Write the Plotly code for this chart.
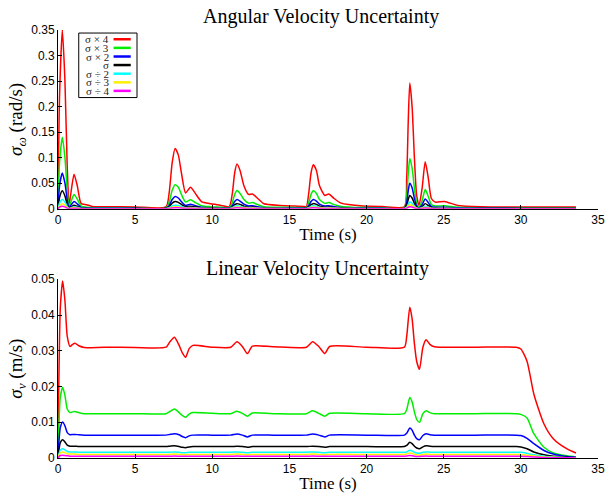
import plotly.graph_objects as go

# ---------------- data ----------------
LABELS = ["σ × 4", "σ × 3", "σ × 2", "σ", "σ ÷ 2", "σ ÷ 3", "σ ÷ 4"]
COLORS = ["#ff0000", "#00ee00", "#0000ff", "#000000", "#00ffff", "#ffee00", "#ff00ff"]

T_TOP = [0, 0.1, 0.28, 0.45, 0.6, 0.72, 0.88, 1.04, 1.25, 1.5,
         1.84, 2.2, 3.0, 5.0, 7.0, 7.2, 7.4, 7.59, 7.8, 8.0,
         8.27, 8.59, 8.9, 9.3, 9.9, 10.5, 11.1, 11.3, 11.45, 11.6,
         11.8, 12.05, 12.35, 12.6, 12.95, 13.35, 14.4, 15.9, 16.1, 16.25,
         16.4, 16.55, 16.75, 16.95, 17.3, 17.55, 17.9, 18.35, 19.75, 21.0,
         22.45, 22.6, 22.7, 22.8, 22.95, 23.1, 23.25, 23.4, 23.6, 23.8,
         24.0, 24.2, 24.45, 25.05, 25.9, 27.4, 30.0, 33.57]

W_X4 = [0.0, 0.22, 0.35, 0.25, 0.08, 0.008, 0.04, 0.0675, 0.045, 0.01,
        0.008, 0.0045, 0.004, 0.0035, 0.0035, 0.03, 0.09, 0.118, 0.105, 0.07,
        0.031, 0.042, 0.03, 0.014, 0.0097, 0.007, 0.004, 0.03, 0.07, 0.0875,
        0.075, 0.045, 0.028, 0.029, 0.02, 0.0097, 0.0065, 0.0045, 0.004, 0.03,
        0.07, 0.086, 0.075, 0.045, 0.026, 0.029, 0.02, 0.011, 0.0055, 0.0045,
        0.004, 0.06, 0.17, 0.246, 0.2, 0.1, 0.025, 0.0065, 0.04, 0.092,
        0.06, 0.02, 0.013, 0.0143, 0.0065, 0.004, 0.0035, 0.0035]
W_X3 = [0.0, 0.09, 0.14, 0.1, 0.035, 0.004, 0.017, 0.028, 0.019, 0.005,
        0.003, 0.002, 0.0018, 0.0015, 0.0015, 0.012, 0.036, 0.047, 0.042, 0.028,
        0.013, 0.0175, 0.012, 0.006, 0.004, 0.003, 0.0018, 0.012, 0.028, 0.0356,
        0.03, 0.018, 0.011, 0.012, 0.008, 0.004, 0.0027, 0.0018, 0.0016, 0.012,
        0.028, 0.035, 0.03, 0.018, 0.0105, 0.012, 0.008, 0.0045, 0.0022, 0.0018,
        0.0016, 0.024, 0.068, 0.0985, 0.08, 0.04, 0.01, 0.0028, 0.016, 0.0375,
        0.024, 0.008, 0.0053, 0.0058, 0.0027, 0.0016, 0.0014, 0.0014]
W_X2 = [0.0, 0.045, 0.07, 0.05, 0.017, 0.002, 0.0085, 0.014, 0.0095, 0.0025,
        0.0015, 0.001, 0.0009, 0.0008, 0.0008, 0.006, 0.018, 0.024, 0.021, 0.014,
        0.0065, 0.009, 0.006, 0.003, 0.002, 0.0015, 0.0009, 0.006, 0.014, 0.018,
        0.015, 0.009, 0.0055, 0.006, 0.004, 0.002, 0.0014, 0.0009, 0.0008, 0.006,
        0.014, 0.018, 0.015, 0.009, 0.0053, 0.006, 0.004, 0.0023, 0.0011, 0.0009,
        0.0008, 0.012, 0.035, 0.05, 0.041, 0.02, 0.005, 0.0014, 0.008, 0.019,
        0.012, 0.004, 0.0027, 0.003, 0.0014, 0.0008, 0.0007, 0.0007]
W_X1 = [0.0, 0.022, 0.035, 0.025, 0.0085, 0.001, 0.0043, 0.007, 0.0048, 0.0013,
        0.0008, 0.0005, 0.00045, 0.0004, 0.0004, 0.0035, 0.011, 0.0142, 0.0125, 0.0084,
        0.0038, 0.005, 0.0035, 0.0017, 0.0012, 0.0008, 0.0005, 0.0034, 0.008, 0.010,
        0.0085, 0.005, 0.003, 0.0033, 0.0022, 0.0011, 0.0007, 0.0005, 0.0004, 0.0034,
        0.008, 0.010, 0.0085, 0.005, 0.003, 0.0033, 0.0022, 0.0013, 0.0006, 0.0005,
        0.0004, 0.0065, 0.018, 0.026, 0.021, 0.0105, 0.0027, 0.0007, 0.0042, 0.010,
        0.0065, 0.0022, 0.0014, 0.0016, 0.0007, 0.0004, 0.0004, 0.0004]
W_D2 = [0.0, 0.011, 0.018, 0.013, 0.0044, 0.0005, 0.0024, 0.004, 0.0027, 0.0007,
        0.0004, 0.0003, 0.00025, 0.0002, 0.0002, 0.0018, 0.0054, 0.007, 0.0062, 0.0042,
        0.0019, 0.0026, 0.0018, 0.0009, 0.0006, 0.0004, 0.00025, 0.002, 0.0047, 0.006,
        0.005, 0.003, 0.0018, 0.002, 0.0013, 0.0007, 0.0004, 0.00025, 0.0002, 0.002,
        0.0047, 0.006, 0.005, 0.003, 0.0018, 0.002, 0.0013, 0.0007, 0.0003, 0.00025,
        0.0002, 0.0032, 0.009, 0.013, 0.0105, 0.0052, 0.0014, 0.0004, 0.0021, 0.005,
        0.0032, 0.0011, 0.0007, 0.0008, 0.0004, 0.0002, 0.0002, 0.0002]
W_D3 = [0.0, 0.006, 0.010, 0.0072, 0.0024, 0.0003, 0.0013, 0.0022, 0.0015, 0.0004,
        0.0002, 0.00015, 0.00012, 0.0001, 0.0001, 0.001, 0.003, 0.004, 0.0035, 0.0024,
        0.0011, 0.0015, 0.001, 0.0005, 0.00035, 0.00025, 0.00012, 0.0011, 0.0027, 0.0035,
        0.003, 0.0018, 0.001, 0.0012, 0.0008, 0.0004, 0.00025, 0.00012, 0.0001, 0.0011,
        0.0027, 0.0035, 0.003, 0.0018, 0.001, 0.0012, 0.0008, 0.0004, 0.00015, 0.00012,
        0.0001, 0.002, 0.0055, 0.008, 0.0065, 0.0032, 0.0008, 0.0002, 0.0013, 0.003,
        0.002, 0.0007, 0.0004, 0.0005, 0.0002, 0.0001, 0.0001, 0.0001]
W_D4 = [0.0, 0.003, 0.005, 0.0036, 0.0012, 0.00015, 0.0007, 0.0011, 0.0008, 0.0002,
        0.0001, 0.00008, 0.00006, 0.00005, 0.00005, 0.0005, 0.0015, 0.002, 0.0018, 0.0012,
        0.0006, 0.0008, 0.0005, 0.00025, 0.00018, 0.00012, 0.00006, 0.0006, 0.0014, 0.0018,
        0.0015, 0.0009, 0.0005, 0.0006, 0.0004, 0.0002, 0.00012, 0.00006, 0.00005, 0.0006,
        0.0014, 0.0018, 0.0015, 0.0009, 0.0005, 0.0006, 0.0004, 0.0002, 0.00008, 0.00006,
        0.00005, 0.001, 0.0028, 0.004, 0.0033, 0.0016, 0.0004, 0.0001, 0.0007, 0.0015,
        0.001, 0.00035, 0.0002, 0.00025, 0.0001, 0.00005, 0.00005, 0.00005]

T_BOT = [0, 0.05, 0.15, 0.3, 0.45, 0.6, 0.78, 0.95, 1.1, 1.35,
         1.7, 3.0, 5.0, 7.0, 7.25, 7.55, 7.85, 8.05, 8.27, 8.5,
         8.75, 10.0, 11.2, 11.6, 11.95, 12.28, 12.6, 14.0, 16.1, 16.5,
         16.9, 17.3, 17.6, 20.0, 22.45, 22.6, 22.8, 22.95, 23.1, 23.25,
         23.43, 23.65, 23.86, 24.1, 24.4, 27.0, 29.7, 30.0, 30.4, 30.84,
         31.5, 32.1, 32.97, 33.57]

V_X4 = [0.0, 0.02, 0.042, 0.0495, 0.044, 0.034, 0.0312, 0.0318, 0.0321, 0.0314,
        0.0309, 0.031, 0.0309, 0.031, 0.0325, 0.0338, 0.0315, 0.0295, 0.0282, 0.0306,
        0.0315, 0.031, 0.031, 0.0325, 0.0312, 0.0292, 0.0313, 0.0311, 0.031, 0.0325,
        0.0312, 0.0292, 0.0312, 0.031, 0.031, 0.034, 0.0422, 0.039, 0.032, 0.027,
        0.0248, 0.031, 0.0331, 0.0318, 0.0311, 0.031, 0.031, 0.0305, 0.0271, 0.0179,
        0.0095, 0.0054, 0.0026, 0.0014]
V_X3 = [0.0, 0.008, 0.017, 0.0198, 0.0175, 0.0137, 0.0127, 0.0129, 0.013, 0.0127,
        0.0124, 0.0124, 0.0124, 0.0124, 0.013, 0.0137, 0.0127, 0.0119, 0.0114, 0.0123,
        0.0127, 0.0125, 0.0124, 0.0131, 0.0125, 0.0117, 0.0126, 0.0124, 0.0124, 0.0132,
        0.0125, 0.0117, 0.0125, 0.0124, 0.0124, 0.0135, 0.0169, 0.0157, 0.0129, 0.0108,
        0.010, 0.0124, 0.0132, 0.0127, 0.0124, 0.0124, 0.0124, 0.0122, 0.0112, 0.0068,
        0.003, 0.0014, 0.0006, 0.0003]
V_X2 = [0.0, 0.004, 0.0085, 0.0101, 0.009, 0.0071, 0.0065, 0.0066, 0.0066, 0.0065,
        0.0064, 0.0064, 0.0064, 0.0064, 0.0066, 0.0068, 0.0065, 0.006, 0.0057, 0.0062,
        0.0064, 0.0064, 0.0064, 0.0067, 0.0064, 0.0059, 0.0064, 0.0064, 0.0064, 0.0067,
        0.0064, 0.0059, 0.0064, 0.0064, 0.0064, 0.0069, 0.0084, 0.0078, 0.0064, 0.0054,
        0.0051, 0.0063, 0.0068, 0.0065, 0.0064, 0.0064, 0.0064, 0.0063, 0.0055, 0.004,
        0.0021, 0.0011, 0.0004, 0.0002]
V_X1 = [0.0, 0.002, 0.0043, 0.0051, 0.0045, 0.0036, 0.0033, 0.0033, 0.0033, 0.0032,
        0.0032, 0.0032, 0.0032, 0.0032, 0.0033, 0.0034, 0.0032, 0.003, 0.0029, 0.0031,
        0.0032, 0.0032, 0.0032, 0.0033, 0.0032, 0.003, 0.0032, 0.0032, 0.0032, 0.0033,
        0.0032, 0.003, 0.0032, 0.0032, 0.0032, 0.0035, 0.0044, 0.004, 0.0033, 0.0028,
        0.0026, 0.0031, 0.0034, 0.0033, 0.0032, 0.0032, 0.0032, 0.0031, 0.0026, 0.0017,
        0.0009, 0.0005, 0.0002, 0.0001]
V_D2 = [0.0, 0.001, 0.0022, 0.0026, 0.0023, 0.0018, 0.0017, 0.0017, 0.0017, 0.0016,
        0.0016, 0.0016, 0.0016, 0.0016, 0.0016, 0.0017, 0.0016, 0.0015, 0.0015, 0.0016,
        0.0016, 0.0016, 0.0016, 0.0017, 0.0016, 0.0015, 0.0016, 0.0016, 0.0016, 0.0017,
        0.0016, 0.0015, 0.0016, 0.0016, 0.0016, 0.0017, 0.0022, 0.002, 0.0016, 0.0014,
        0.0013, 0.0016, 0.0017, 0.0016, 0.0016, 0.0016, 0.0016, 0.0016, 0.0013, 0.0009,
        0.0005, 0.0003, 0.0001, 0.00005]
V_D3 = [0.0, 0.0007, 0.0014, 0.0017, 0.0015, 0.0012, 0.0011, 0.0011, 0.0011, 0.001,
        0.001, 0.001, 0.001, 0.001, 0.001, 0.0011, 0.001, 0.001, 0.0009, 0.001,
        0.001, 0.001, 0.001, 0.0011, 0.001, 0.0009, 0.001, 0.001, 0.001, 0.0011,
        0.001, 0.0009, 0.001, 0.001, 0.001, 0.0011, 0.0014, 0.0013, 0.001, 0.0009,
        0.0008, 0.001, 0.0011, 0.001, 0.001, 0.001, 0.001, 0.001, 0.0008, 0.0006,
        0.0003, 0.0002, 0.0001, 0.00003]
V_D4 = [0.0, 0.0003, 0.0007, 0.0008, 0.0007, 0.0006, 0.0005, 0.0005, 0.0005, 0.0005,
        0.0005, 0.0005, 0.0005, 0.0005, 0.0005, 0.00055, 0.0005, 0.00048, 0.00046, 0.0005,
        0.0005, 0.0005, 0.0005, 0.00054, 0.0005, 0.00047, 0.0005, 0.0005, 0.0005, 0.00054,
        0.0005, 0.00047, 0.0005, 0.0005, 0.0005, 0.00055, 0.0007, 0.00065, 0.0005, 0.00043,
        0.0004, 0.0005, 0.00054, 0.0005, 0.0005, 0.0005, 0.0005, 0.0005, 0.0004, 0.0003,
        0.00015, 0.0001, 0.00005, 0.00002]

TOP_SERIES = [W_X4, W_X3, W_X2, W_X1, W_D2, W_D3, W_D4]
BOT_SERIES = [V_X4, V_X3, V_X2, V_X1, V_D2, V_D3, V_D4]

X_TICKS = [0, 5, 10, 15, 20, 25, 30, 35]
TOP_YTICKS = [0, 0.05, 0.1, 0.15, 0.2, 0.25, 0.3, 0.35]
BOT_YTICKS = [0, 0.01, 0.02, 0.03, 0.04, 0.05]

# ---------------- figure ----------------
SERIF = "Liberation Serif"
SANS = "Liberation Sans"

fig = go.Figure()
for name, col, ys in zip(LABELS, COLORS, TOP_SERIES):
    fig.add_trace(go.Scatter(x=T_TOP, y=ys, mode="lines", name=name,
                             line=dict(color=col, width=1.5, shape="spline", smoothing=0.6),
                             xaxis="x", yaxis="y", showlegend=False))
for name, col, ys in zip(LABELS, COLORS, BOT_SERIES):
    fig.add_trace(go.Scatter(x=T_BOT, y=ys, mode="lines", name=name,
                             line=dict(color=col, width=1.5, shape="spline", smoothing=0.6),
                             xaxis="x2", yaxis="y2", showlegend=False))

axis_common = dict(showline=True, linecolor="black", linewidth=1, ticks="inside",
                   ticklen=4, tickcolor="black", showgrid=False, zeroline=False,
                   ticklabeloverflow="allow",
                   tickfont=dict(family=SANS, size=12, color="black"))

fig.update_layout(
    width=611, height=495,
    margin=dict(l=58, r=6, t=30, b=34),
    paper_bgcolor="white", plot_bgcolor="white",
    showlegend=False,
    xaxis=dict(domain=[0, 1], anchor="y", range=[0, 35], tickvals=X_TICKS,
               title=dict(text="Time (s)", font=dict(family=SERIF, size=17, color="black"), standoff=1),
               **axis_common),
    yaxis=dict(domain=[0.5824, 1.0], anchor="x", range=[0, 0.35], tickvals=TOP_YTICKS,
               title=dict(text="<i>σ</i><sub><i>ω</i></sub> (rad/s)",
                          font=dict(family=SERIF, size=19, color="black"), standoff=3),
               **axis_common),
    xaxis2=dict(domain=[0, 1], anchor="y2", range=[0, 35], tickvals=X_TICKS,
                title=dict(text="Time (s)", font=dict(family=SERIF, size=17, color="black"), standoff=1),
                **axis_common),
    yaxis2=dict(domain=[0, 0.4176], anchor="x2", range=[0, 0.05], tickvals=BOT_YTICKS,
                title=dict(text="<i>σ</i><sub><i>v</i></sub> (m/s)",
                           font=dict(family=SERIF, size=19, color="black"), standoff=3),
                **axis_common),
)

# subplot titles
fig.add_annotation(text="Angular Velocity Uncertainty", xref="paper", yref="paper",
                   x=0.487, y=1.0325, xanchor="center", yanchor="middle", showarrow=False,
                   font=dict(family=SERIF, size=20, color="black"))
fig.add_annotation(text="Linear Velocity Uncertainty", xref="paper", yref="paper",
                   x=0.48, y=0.4432, xanchor="center", yanchor="middle", showarrow=False,
                   font=dict(family=SERIF, size=20, color="black"))

# gnuplot-style key inside the top panel (text right, sample line on the right)
fig.add_shape(type="rect", xref="x domain", yref="y domain",
              x0=0.0384, x1=0.1463, y0=0.622, y1=0.983,
              line=dict(color="black", width=1), fillcolor="rgba(0,0,0,0)")
row_y = [39.3, 48.0, 56.7, 65.3, 74.0, 82.7, 91.3]
for i, (name, col) in enumerate(zip(LABELS, COLORS)):
    yd = (210 - row_y[i]) / 180
    fig.add_annotation(text=name, xref="x domain", yref="y domain",
                       x=0.0969, y=yd, xanchor="right", yanchor="middle", showarrow=False,
                       borderpad=0,
                       font=dict(family=SERIF, size=11, color="#222222"))
    fig.add_shape(type="line", xref="x domain", yref="y domain",
                  x0=0.1029, x1=0.1347, y0=yd, y1=yd,
                  line=dict(color=col, width=2.5))

fig.write_html("out.html")
